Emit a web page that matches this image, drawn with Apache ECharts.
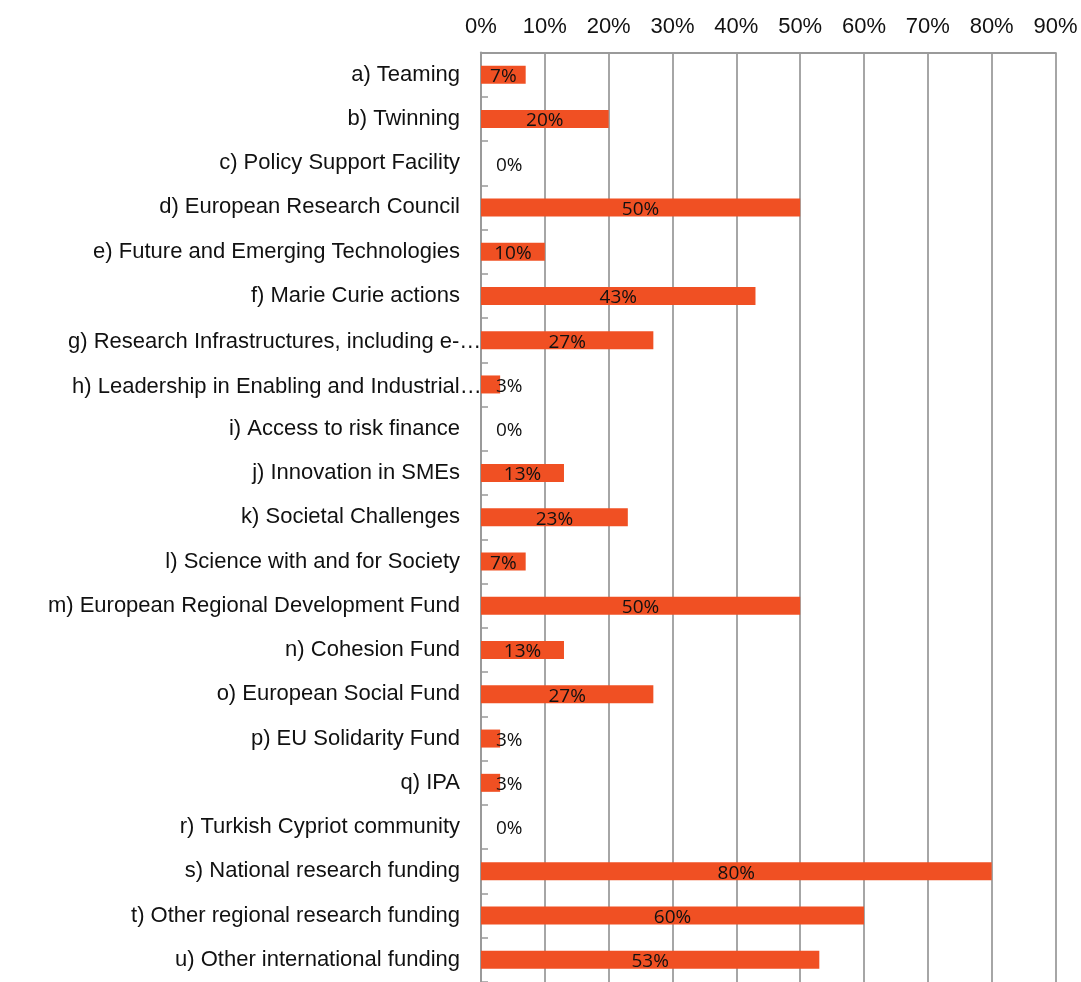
<!DOCTYPE html>
<html><head><meta charset="utf-8">
<script src="https://cdn.jsdelivr.net/npm/echarts@6/dist/echarts.min.js"></script>
<style>html,body{margin:0;padding:0;background:#fff}#c{width:1081px;height:982px}</style>
</head><body><div id="c"></div>
<script>
const categories = [
  "a) Teaming","b) Twinning","c) Policy Support Facility","d) European Research Council",
  "e) Future and Emerging Technologies","f) Marie Curie actions","g) Research Infrastructures, including e-…",
  "h) Leadership in Enabling and Industrial…","i) Access to risk finance","j) Innovation in SMEs",
  "k) Societal Challenges","l) Science with and for Society","m) European Regional Development Fund",
  "n) Cohesion Fund","o) European Social Fund","p) EU Solidarity Fund","q) IPA",
  "r) Turkish Cypriot community","s) National research funding","t) Other regional research funding",
  "u) Other international funding"
];
const values = [7,20,0,50,10,43,27,3,0,13,23,7,50,13,27,3,3,0,80,60,53];

const LABEL_FONT = '22px "Liberation Sans", Arial';
const ctx = document.createElement('canvas').getContext('2d');
ctx.font = LABEL_FONT;
const catData = categories.map(c => {
  if (c.endsWith('…')) {
    const w = Math.ceil(ctx.measureText(c).width);
    return {value: c, textStyle: {rich: {o: {width: w - 22, align: 'left', fontSize: 22, color: '#111', fontFamily: 'Liberation Sans, Arial'}}}};
  }
  return c;
});

const chart = echarts.init(document.getElementById('c'), null, {renderer:'canvas'});
const data = values.map(v => ({
  value: v,
  label: v < 5 ? {position: 'insideLeft', distance: 15} : {position: 'inside'}
}));
chart.setOption({
  animation: false,
  grid: {left: 481, right: 25.5, top: 52.5, bottom: -5.5, containLabel: false},
  xAxis: {
    type: 'value', position: 'top', min: 0, max: 90, interval: 10,
    axisLabel: {formatter: v => v + '%', color: '#111', fontFamily: 'Liberation Sans, Arial', fontSize: 22, margin: 15},
    axisLine: {show: true, lineStyle: {color: '#9a9a9a', width: 2}},
    axisTick: {show: false},
    splitLine: {show: true, lineStyle: {color: '#a6a6a6', width: 2}}
  },
  yAxis: {
    type: 'category', inverse: true, data: catData,
    axisLabel: {
      color: '#111', fontFamily: 'Liberation Sans, Arial', fontSize: 22, margin: 21, padding: [4, 0, 0, 0],
      formatter: (v) => v.endsWith('…') ? '{o|' + v + '}' : v
    },
    axisLine: {show: true, lineStyle: {color: '#9a9a9a', width: 2}},
    axisTick: {show: true, inside: true, length: 7, lineStyle: {color: '#999', width: 1.5}}
  },
  series: [{
    type: 'bar', data: data, barWidth: 18,
    itemStyle: {color: '#F05023'},
    label: {show: true, formatter: p => p.value + '%', color: '#111', fontFamily: 'Open Sans, Noto Sans', fontSize: 19, offset: [0, 2]}
  }]
});
</script></body></html>
